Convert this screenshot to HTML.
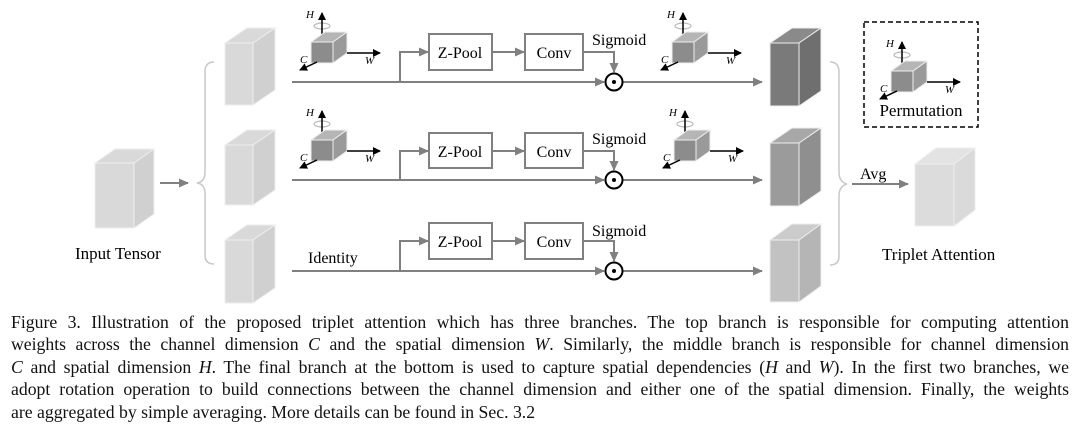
<!DOCTYPE html>
<html><head><meta charset="utf-8"><style>
body{margin:0;background:#fff;width:1080px;height:430px;overflow:hidden;position:relative;font-family:"Liberation Serif",serif}
.cap{position:absolute;left:11px;width:1058px;font-size:17.7px;color:#111;text-align:justify;text-align-last:justify;white-space:nowrap;line-height:22px}
.cap.l{text-align-last:left}
</style></head><body>
<svg width="1080" height="305" style="position:absolute;left:0;top:0" font-family="Liberation Serif, serif">
<defs>
<marker id="ag" markerWidth="10" markerHeight="10" refX="9" refY="5" orient="auto" markerUnits="userSpaceOnUse"><path d="M0,0.5 L10,5 L0,9.5z" fill="#808080"/></marker>
<marker id="ak" markerWidth="8" markerHeight="8" refX="7" refY="4" orient="auto" markerUnits="userSpaceOnUse"><path d="M0,0 L8,4 L0,8z" fill="#000"/></marker>
<g id="ax">
<ellipse cx="11" cy="-7" rx="8" ry="3" fill="none" stroke="#bbb" stroke-width="1.2"/>
<line x1="11" y1="9" x2="11" y2="-20" stroke="#000" stroke-width="1.5" marker-end="url(#ak)"/>
<polygon points="0,9 14,-1 36,-1 22,9" fill="#b5b5b5" stroke="#eee" stroke-width="1"/>
<polygon points="22,9 36,-1 36,20 22,30" fill="#9a9a9a" stroke="#eee" stroke-width="1"/>
<rect x="0" y="9" width="22" height="21" fill="#8c8c8c" stroke="#eee" stroke-width="1"/>
<line x1="36" y1="20" x2="69" y2="20" stroke="#000" stroke-width="1.5" marker-end="url(#ak)"/>
<line x1="6" y1="29" x2="-11" y2="37" stroke="#000" stroke-width="1.5" marker-end="url(#ak)"/>
<text x="-5" y="-15" font-size="11" font-style="italic">H</text>
<text x="-11" y="30" font-size="11" font-style="italic">C</text>
<text x="54" y="31" font-size="11" font-style="italic">W</text>
</g>
</defs>
<g fill="#d9d9d9" stroke="#eee" stroke-width="1">
<polygon points="95,163 115,149 154,149 134,163"/><polygon points="134,163 154,149 154,214 134,228" fill="#d0d0d0"/><rect x="95" y="163" width="39" height="65"/>
<polygon points="225,43 247,28 275,28 253,43"/><polygon points="253,43 275,28 275,90 253,105" fill="#d0d0d0"/><rect x="225" y="43" width="28" height="62"/>
<polygon points="225,145 247,130 275,130 253,145"/><polygon points="253,145 275,130 275,190 253,205" fill="#d0d0d0"/><rect x="225" y="145" width="28" height="60"/>
<polygon points="225,240 247,225 275,225 253,240"/><polygon points="253,240 275,225 275,288 253,303" fill="#d0d0d0"/><rect x="225" y="240" width="28" height="63"/>
<polygon points="770,43 792,28 821,28 799,43" fill="#8a8a8a"/><polygon points="799,43 821,28 821,91 799,106" fill="#6f6f6f"/><rect x="770" y="43" width="29" height="63" fill="#7a7a7a"/>
<polygon points="770,143 792,128 821,128 799,143" fill="#a8a8a8"/><polygon points="799,143 821,128 821,191 799,206" fill="#8f8f8f"/><rect x="770" y="143" width="29" height="63" fill="#9b9b9b"/>
<polygon points="770,240 792,224 821,224 799,240" fill="#cbcbcb"/><polygon points="799,240 821,224 821,286 799,302" fill="#b5b5b5"/><rect x="770" y="240" width="29" height="62" fill="#c2c2c2"/>
<polygon points="915,164 936,148 975,148 954,164" fill="#e3e3e3"/><polygon points="954,164 975,148 975,210 954,226" fill="#dadada"/><rect x="915" y="164" width="39" height="62" fill="#dcdcdc"/>
</g>
<line x1="160" y1="183" x2="188" y2="183" stroke="#808080" stroke-width="2" marker-end="url(#ag)"/>
<path d="M214,62 Q205,62 205,72 L205,172 Q205,182 197,183 Q205,184 205,194 L205,255 Q205,264 214,264" fill="none" stroke="#c8c8c8" stroke-width="1.5"/>
<path d="M830,62 Q839,62 839,72 L839,172 Q839,182 847,184 Q839,186 839,196 L839,256 Q839,265 830,265" fill="none" stroke="#c8c8c8" stroke-width="1.5"/>
<line x1="852" y1="184" x2="908" y2="184" stroke="#808080" stroke-width="2" marker-end="url(#ag)"/>
<text x="860" y="179" font-size="16">Avg</text>
<g stroke="#808080" stroke-width="2" fill="none">
<line x1="292" y1="82" x2="604" y2="82" marker-end="url(#ag)"/><line x1="623" y1="82" x2="762" y2="82" marker-end="url(#ag)"/>
<polyline points="400,82 400,52 428,52" marker-end="url(#ag)"/><line x1="493" y1="52" x2="524" y2="52" marker-end="url(#ag)"/>
<polyline points="584,52 614,52 614,72" marker-end="url(#ag)"/>
<line x1="292" y1="180" x2="604" y2="180" marker-end="url(#ag)"/><line x1="623" y1="180" x2="762" y2="180" marker-end="url(#ag)"/>
<polyline points="400,180 400,151 428,151" marker-end="url(#ag)"/><line x1="493" y1="151" x2="524" y2="151" marker-end="url(#ag)"/>
<polyline points="584,151 614,151 614,170" marker-end="url(#ag)"/>
<line x1="292" y1="271" x2="604" y2="271" marker-end="url(#ag)"/><line x1="623" y1="271" x2="762" y2="271" marker-end="url(#ag)"/>
<polyline points="400,271 400,241 428,241" marker-end="url(#ag)"/><line x1="493" y1="241" x2="524" y2="241" marker-end="url(#ag)"/>
<polyline points="584,241 614,241 614,261" marker-end="url(#ag)"/>
</g>
<g fill="#fff" stroke="#808080" stroke-width="2">
<rect x="429" y="34" width="63" height="36"/><rect x="525" y="34" width="58" height="36"/>
<rect x="429" y="133" width="63" height="35"/><rect x="525" y="133" width="58" height="35"/>
<rect x="429" y="223" width="63" height="36"/><rect x="525" y="223" width="58" height="36"/>
</g>
<g font-size="16" text-anchor="middle">
<text x="460" y="58">Z-Pool</text><text x="554" y="58">Conv</text>
<text x="460" y="157">Z-Pool</text><text x="554" y="157">Conv</text>
<text x="460" y="247">Z-Pool</text><text x="554" y="247">Conv</text>
</g>
<g font-size="16"><text x="592" y="45">Sigmoid</text><text x="592" y="144">Sigmoid</text><text x="592" y="236">Sigmoid</text>
<text x="308" y="263">Identity</text></g>
<g fill="#fff" stroke="#000" stroke-width="2">
<circle cx="614" cy="82" r="8.5"/><circle cx="614" cy="180" r="8.5"/><circle cx="614" cy="271" r="8.5"/>
</g>
<g fill="#000"><circle cx="614" cy="82" r="2"/><circle cx="614" cy="180" r="2"/><circle cx="614" cy="271" r="2"/></g>
<use href="#ax" x="311" y="33"/>
<use href="#ax" x="311" y="131"/>
<use href="#ax" x="672" y="33"/>
<use href="#ax" x="674" y="131"/>
<rect x="864" y="22" width="114" height="105" fill="none" stroke="#000" stroke-width="1.5" stroke-dasharray="5,3"/>
<use href="#ax" x="891" y="62"/>
<text x="921" y="116" font-size="17" text-anchor="middle">Permutation</text>
<text x="75" y="259" font-size="17">Input Tensor</text>
<text x="882" y="260" font-size="17">Triplet Attention</text>
</svg>
<div class="cap" style="top:311px">Figure 3. Illustration of the proposed triplet attention which has three branches. The top branch is responsible for computing attention</div>
<div class="cap" style="top:333px">weights across the channel dimension <i>C</i> and the spatial dimension <i>W</i>. Similarly, the middle branch is responsible for channel dimension</div>
<div class="cap" style="top:356px"><i>C</i> and spatial dimension <i>H</i>. The final branch at the bottom is used to capture spatial dependencies (<i>H</i> and <i>W</i>). In the first two branches, we</div>
<div class="cap" style="top:378px">adopt rotation operation to build connections between the channel dimension and either one of the spatial dimension. Finally, the weights</div>
<div class="cap l" style="top:401px">are aggregated by simple averaging. More details can be found in Sec. 3.2</div>
</body></html>
